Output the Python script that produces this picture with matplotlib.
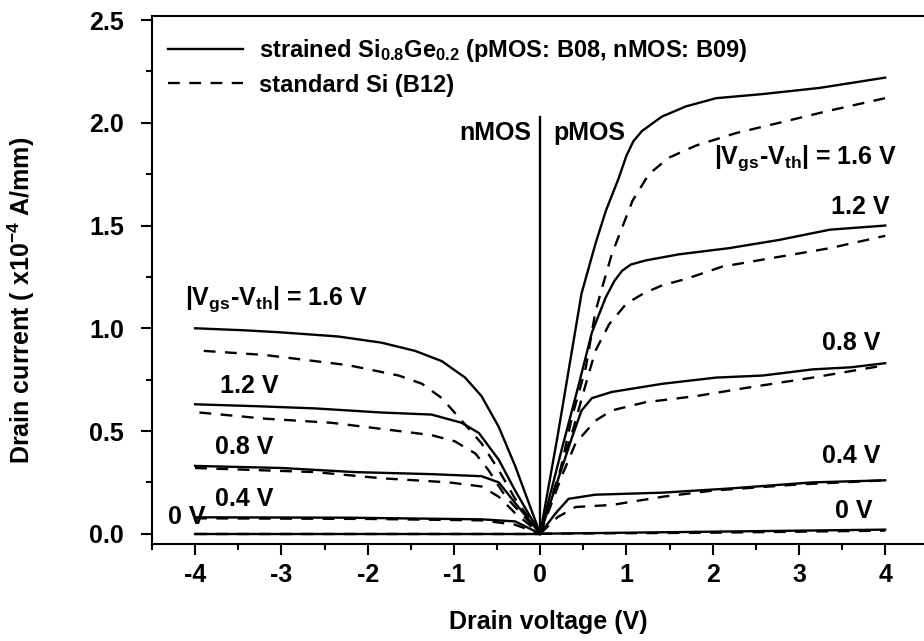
import numpy as np
import matplotlib
matplotlib.use("Agg")
import matplotlib.pyplot as plt
from matplotlib.lines import Line2D
from matplotlib.ticker import MultipleLocator, FormatStrFormatter

plt.rcParams['font.family'] = ['Liberation Sans', 'DejaVu Sans']
plt.rcParams['font.weight'] = 'bold'
plt.rcParams['axes.labelweight'] = 'bold'
plt.rcParams['axes.unicode_minus'] = False
plt.rcParams['mathtext.default'] = 'regular'

# ---- pMOS side (x > 0), |Vgs-Vth| = 1.6, 1.2, 0.8, 0.4, 0 V ----
p16_sige_x = [0, 0.2, 0.48, 0.64, 0.76, 0.91, 1.0, 1.08, 1.18, 1.41, 1.69, 2.04, 2.58, 3.24, 4.0]
p16_sige_y = [0, 0.47, 1.17, 1.41, 1.57, 1.73, 1.84, 1.91, 1.96, 2.03, 2.08, 2.12, 2.14, 2.17, 2.22]
p16_si_x = [0, 0.22, 0.37, 0.53, 0.64, 0.72, 0.83, 0.95, 1.07, 1.26, 1.49, 1.81, 2.27, 2.77, 3.36, 4.0]
p16_si_y = [0, 0.28, 0.57, 0.81, 1.08, 1.20, 1.36, 1.49, 1.62, 1.75, 1.83, 1.89, 1.95, 2.0, 2.06, 2.12]

p12_sige_x = [0, 0.25, 0.45, 0.6, 0.76, 0.86, 0.95, 1.05, 1.22, 1.61, 2.19, 2.77, 3.36, 4.0]
p12_sige_y = [0, 0.41, 0.73, 0.98, 1.15, 1.23, 1.28, 1.31, 1.33, 1.36, 1.39, 1.43, 1.48, 1.50]
p12_si_x = [0, 0.37, 0.53, 0.64, 0.8, 1.0, 1.2, 1.42, 1.69, 2.11, 2.66, 3.36, 4.0]
p12_si_y = [0, 0.49, 0.73, 0.89, 1.02, 1.12, 1.17, 1.21, 1.24, 1.30, 1.34, 1.39, 1.45]

p08_sige_x = [0, 0.22, 0.37, 0.48, 0.6, 0.83, 1.42, 2.04, 2.58, 3.16, 3.6, 4.0]
p08_sige_y = [0, 0.28, 0.47, 0.60, 0.66, 0.69, 0.73, 0.76, 0.77, 0.80, 0.81, 0.83]
p08_si_x = [0, 0.25, 0.41, 0.64, 0.83, 1.22, 1.81, 2.39, 3.16, 4.0]
p08_si_y = [0, 0.28, 0.44, 0.55, 0.60, 0.64, 0.67, 0.71, 0.76, 0.82]

p04_sige_x = [0, 0.18, 0.33, 0.64, 1.42, 2.19, 3.16, 4.0]
p04_sige_y = [0, 0.10, 0.17, 0.19, 0.20, 0.22, 0.25, 0.26]
p04_si_x = [0, 0.2, 0.41, 0.83, 1.42, 2.0, 3.0, 4.0]
p04_si_y = [0, 0.08, 0.13, 0.14, 0.18, 0.21, 0.24, 0.26]

p00_x = [0, 2.0, 4.0]
p00_sige_y = [0, 0.01, 0.02]
p00_si_y = [0, 0.005, 0.015]

# ---- nMOS side (x < 0) ----
n16_sige_x = [-4.0, -3.42, -3.0, -2.34, -1.84, -1.45, -1.14, -0.87, -0.68, -0.48, -0.29, 0]
n16_sige_y = [1.0, 0.99, 0.98, 0.96, 0.93, 0.89, 0.84, 0.76, 0.67, 0.52, 0.33, 0]
n16_si_x = [-3.9, -3.19, -2.8, -2.22, -1.64, -1.37, -1.14, -0.95, -0.68, -0.48, -0.29, 0]
n16_si_y = [0.89, 0.87, 0.85, 0.82, 0.77, 0.73, 0.66, 0.57, 0.44, 0.31, 0.17, 0]

n12_sige_x = [-4.0, -3.24, -2.61, -1.84, -1.26, -0.91, -0.71, -0.48, -0.29, 0]
n12_sige_y = [0.63, 0.62, 0.61, 0.59, 0.58, 0.54, 0.49, 0.36, 0.21, 0]
n12_si_x = [-3.95, -3.19, -2.42, -1.64, -1.26, -0.99, -0.75, -0.6, -0.4, 0]
n12_si_y = [0.59, 0.56, 0.54, 0.50, 0.48, 0.45, 0.39, 0.31, 0.18, 0]

n08_sige_x = [-4.0, -3.0, -2.15, -1.26, -0.68, -0.48, -0.29, 0]
n08_sige_y = [0.33, 0.32, 0.30, 0.29, 0.28, 0.25, 0.15, 0]
n08_si_x = [-4.0, -2.61, -1.84, -1.06, -0.68, -0.48, -0.29, 0]
n08_si_y = [0.32, 0.30, 0.27, 0.25, 0.23, 0.18, 0.10, 0]

n04_sige_x = [-4.0, -2.22, -0.68, -0.29, 0]
n04_sige_y = [0.08, 0.078, 0.07, 0.06, 0]
n04_si_x = [-4.0, -2.0, -0.68, -0.3, 0]
n04_si_y = [0.075, 0.072, 0.065, 0.045, 0]

n00_x = [-4.0, 0]
n00_y = [0, 0]

sige_curves = [(p16_sige_x, p16_sige_y), (p12_sige_x, p12_sige_y), (p08_sige_x, p08_sige_y),
               (p04_sige_x, p04_sige_y), (p00_x, p00_sige_y),
               (n16_sige_x, n16_sige_y), (n12_sige_x, n12_sige_y), (n08_sige_x, n08_sige_y),
               (n04_sige_x, n04_sige_y), (n00_x, n00_y)]
si_curves = [(p16_si_x, p16_si_y), (p12_si_x, p12_si_y), (p08_si_x, p08_si_y),
             (p04_si_x, p04_si_y), (p00_x, p00_si_y),
             (n16_si_x, n16_si_y), (n12_si_x, n12_si_y), (n08_si_x, n08_si_y),
             (n04_si_x, n04_si_y), (n00_x, n00_y)]

FS = 18
LW = 1.7
DASH = (0, (5, 4))

fig = plt.figure(figsize=(9.24, 6.41), dpi=100)
ax = fig.add_axes([152 / 924, 1 - 544 / 641, (924 - 152) / 924, (544 - 16) / 641])

for cx, cy in sige_curves:
    ax.plot(cx, cy, color='black', linewidth=LW, solid_joinstyle='round')
for cx, cy in si_curves:
    ax.plot(cx, cy, color='black', linewidth=LW, linestyle=DASH)

# nMOS / pMOS divider
ax.plot([0, 0], [0, 2.03], color='black', linewidth=LW)
ax.text(-0.1, 1.95, 'nMOS', ha='right', va='center', fontsize=FS)
ax.text(0.15, 1.95, 'pMOS', ha='left', va='center', fontsize=FS)

vlab = r'|V$_{gs}$-V$_{th}$| = 1.6 V'
# left (nMOS) labels
ax.text(-4.12, 1.14, vlab, ha='left', va='center', fontsize=FS)
ax.text(-3.71, 0.72, '1.2 V', ha='left', va='center', fontsize=FS)
ax.text(-3.77, 0.42, '0.8 V', ha='left', va='center', fontsize=FS)
ax.text(-3.77, 0.17, '0.4 V', ha='left', va='center', fontsize=FS)
ax.text(-4.31, 0.08, '0 V', ha='left', va='center', fontsize=FS)
# right (pMOS) labels
ax.text(2.02, 1.83, vlab, ha='left', va='center', fontsize=FS)
ax.text(4.05, 1.59, '1.2 V', ha='right', va='center', fontsize=FS)
ax.text(3.94, 0.93, '0.8 V', ha='right', va='center', fontsize=FS)
ax.text(3.94, 0.38, '0.4 V', ha='right', va='center', fontsize=FS)
ax.text(3.85, 0.11, '0 V', ha='right', va='center', fontsize=FS)

handles = [Line2D([], [], color='black', linewidth=LW),
           Line2D([], [], color='black', linewidth=LW, linestyle=DASH)]
labels = [r'strained Si$_{0.8}$Ge$_{0.2}$ (pMOS: B08, nMOS: B09)', 'standard Si (B12)']
ax.legend(handles, labels, loc='upper left', bbox_to_anchor=(0.008, 0.978), frameon=False,
          fontsize=17, handlelength=3.2, handletextpad=0.65, labelspacing=0.4, borderaxespad=0)

ax.set_xlim(-4.5, 4.45)
ax.set_ylim(-0.05, 2.52)
ax.xaxis.set_major_locator(MultipleLocator(1))
ax.xaxis.set_minor_locator(MultipleLocator(0.5))
ax.yaxis.set_major_locator(MultipleLocator(0.5))
ax.yaxis.set_minor_locator(MultipleLocator(0.25))
ax.yaxis.set_major_formatter(FormatStrFormatter('%.1f'))
ax.tick_params(which='major', direction='out', length=8, width=1.5, labelsize=FS, pad=6)
ax.tick_params(which='minor', direction='out', length=4, width=1.5)
ax.tick_params(axis='y', which='major', pad=12)
ax.spines['right'].set_visible(False)
for s in ['left', 'bottom', 'top']:
    ax.spines[s].set_linewidth(1.5)

ax.set_xlabel('Drain voltage (V)', fontsize=FS)
ax.set_ylabel(r'Drain current ( x10$^{-4}$ A/mm)', fontsize=FS)
ax.xaxis.set_label_coords(0.513, -0.125)
ax.yaxis.set_label_coords(-0.149, 0.462)

fig.savefig('out.png', dpi=100)
